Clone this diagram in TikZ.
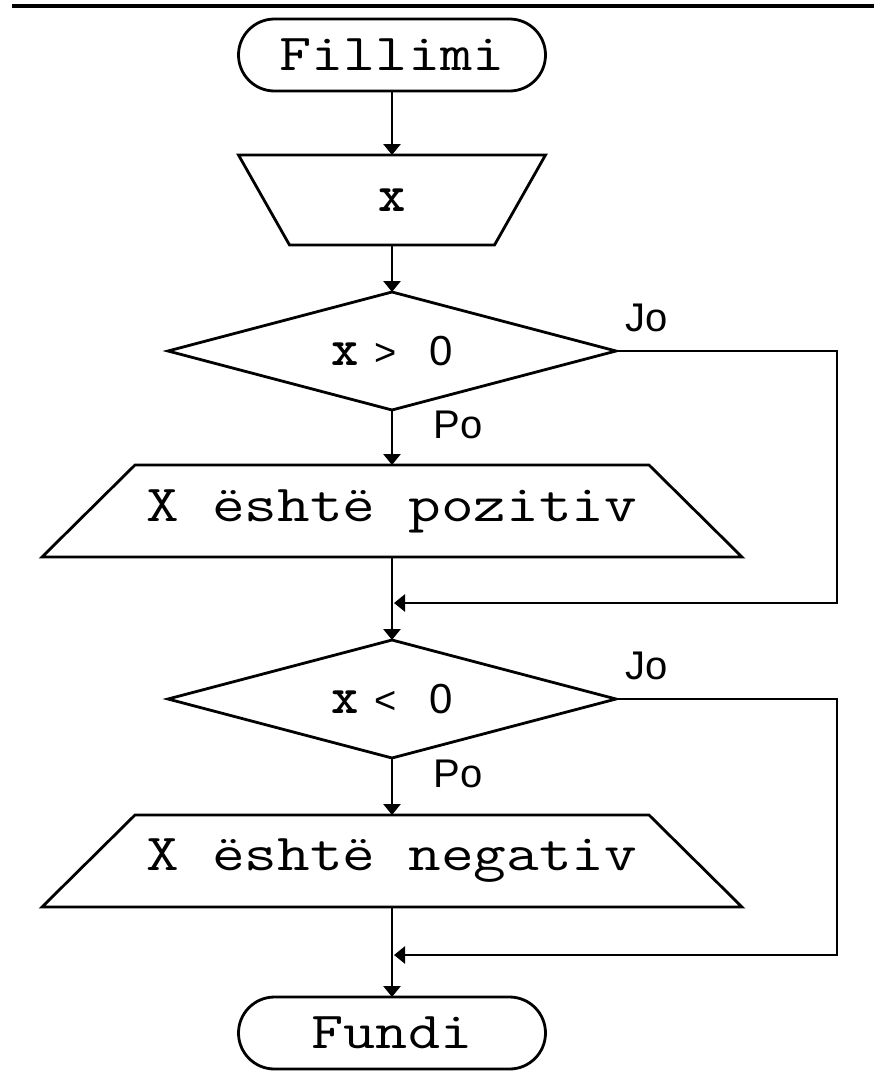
\documentclass[tikz,border=0pt]{standalone}
\usepackage{fontspec}
\newfontfamily\labelfont{Liberation Sans}
\usetikzlibrary{shapes.geometric,arrows.meta,calc}
\begin{document}
\begin{tikzpicture}[x=1pt,y=-1pt,
  every node/.style={inner sep=0pt,outer sep=0pt},
  shapeline/.style={draw=black,line width=2.8pt,line join=miter},
  term/.style={shapeline,rectangle,rounded corners=36pt,minimum width=307pt,minimum height=72pt},
  inbox/.style={rectangle,minimum width=307pt,minimum height=90pt},
  outbox/.style={rectangle,minimum width=700pt,minimum height=92pt},
  decision/.style={shapeline,diamond,aspect=3.8,minimum width=448pt,minimum height=118pt},
  flow/.style={line width=2.8pt,-{Triangle[length=11pt,width=17pt]}},
  rule/.style={line width=4pt},
  txt/.style={font=\fontsize{52}{52}\selectfont\ttfamily},
  sym/.style={font=\fontsize{40}{40}\selectfont\labelfont},
  yesno/.style={font=\fontsize{40}{40}\selectfont\labelfont}
]
\useasboundingbox (0,0) rectangle (874,1087);
% top rule
\coordinate (ruleL) at (12,5.5);
\coordinate (ruleR) at (874,5.5);
\draw[rule] (ruleL) -- (ruleR);

% nodes
\node[term,txt] (start) at (392,55) {\scalebox{1.2}[1]{Fillimi}};
\node[inbox,txt] (in) at (392,200) {\bfseries x};
\draw[shapeline] (in.north west) -- (in.north east) -- ($(in.south east)+(-51,0)$)
  -- ($(in.south west)+(51,0)$) -- cycle;
\node[decision,txt] (d1) at (392,351) {\bfseries x\hspace{16pt}{\mdseries\labelfont\fontsize{38}{38}\selectfont >}\hspace{32pt}{\mdseries\labelfont\fontsize{42}{42}\selectfont 0}};
\node[outbox,txt] (o1) at (392,511) {\scalebox{1.22}[1]{X është pozitiv}};
\draw[shapeline] ($(o1.north west)+(93,0)$) -- ($(o1.north east)+(-93,0)$) -- (o1.south east)
  -- (o1.south west) -- cycle;
\node[decision,txt] (d2) at (392,699) {\bfseries x\hspace{16pt}{\mdseries\labelfont\fontsize{38}{38}\selectfont <}\hspace{32pt}{\mdseries\labelfont\fontsize{42}{42}\selectfont 0}};
\node[outbox,txt] (o2) at (392,861) {\scalebox{1.22}[1]{X është negativ}};
\draw[shapeline] ($(o2.north west)+(93,0)$) -- ($(o2.north east)+(-93,0)$) -- (o2.south east)
  -- (o2.south west) -- cycle;
\node[term,txt] (end) at (392,1033) {\scalebox{1.2}[1]{Fundi}};

% labels
\node[yesno] (jo1) at (647,318) {Jo};
\node[yesno] (po1) at (458,425) {Po};
\node[yesno] (jo2) at (647,666) {Jo};
\node[yesno] (po2) at (458,774) {Po};

% helper coordinates
\coordinate (r1a) at (837,351);
\coordinate (r1b) at (837,603);
\coordinate (m1) at (394,603);
\coordinate (r2a) at (837,699);
\coordinate (r2b) at (837,955);
\coordinate (m2) at (394,955);

% connectors
\draw[flow] (start.south) -- (in.north);
\draw[flow] (in.south) -- (d1.north);
\draw[flow] (d1.south) -- (o1.north);
\draw[flow] (o1.south) -- (d2.north);
\draw[flow] (d1.east) -- (r1a) -- (r1b) -- (m1);
\draw[flow] (d2.south) -- (o2.north);
\draw[flow] (o2.south) -- (end.north);
\draw[flow] (d2.east) -- (r2a) -- (r2b) -- (m2);
\end{tikzpicture}
\end{document}
